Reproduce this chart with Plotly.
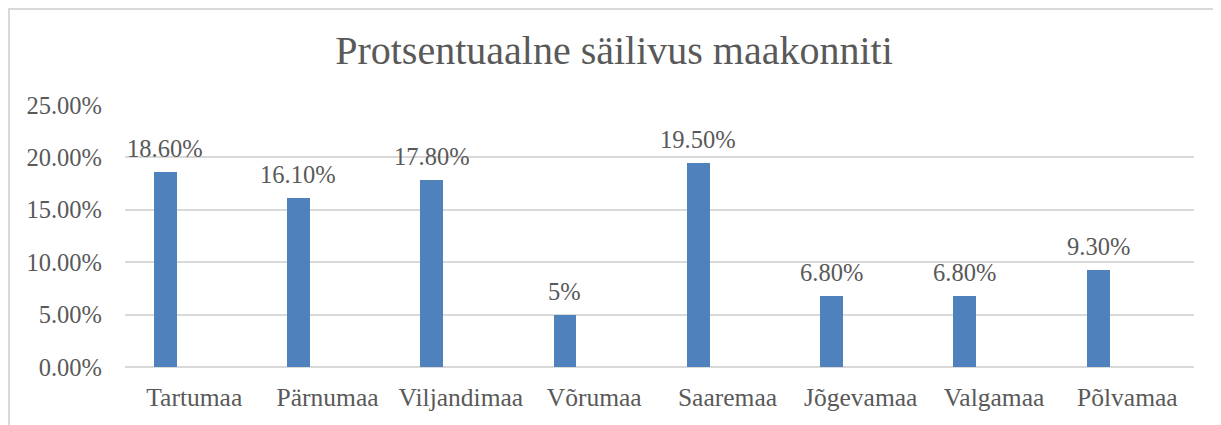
import plotly.graph_objects as go

categories = ["Tartumaa", "Pärnumaa", "Viljandimaa", "Võrumaa", "Saaremaa", "Jõgevamaa", "Valgamaa", "Põlvamaa"]
values = [0.186, 0.161, 0.178, 0.05, 0.195, 0.068, 0.068, 0.093]
value_labels = ["18.60%", "16.10%", "17.80%", "5%", "19.50%", "6.80%", "6.80%", "9.30%"]
y_ticks = [0, 0.05, 0.10, 0.15, 0.20, 0.25]
title_text = "Protsentuaalne säilivus maakonniti"

FONT = "Liberation Serif"
TXT = "#595959"
# page body has an 8px margin; compensate
W, H = 1213, 417
L, R, T, B = 117, 27, 97, 58
BAR_W = 0.172
BAR_OFF = -0.305

fig = go.Figure()
fig.add_trace(go.Bar(
    x=categories, y=values,
    marker=dict(color="#4F81BD", line=dict(width=0)),
    width=BAR_W, offset=BAR_OFF,
    hoverinfo="skip",
))

pw = W - L - R
ph = H - T - B
cat_px = pw / len(categories)

for c, v, lab in zip(categories, values, value_labels):
    fig.add_annotation(x=c, y=v, xref="x", yref="y", text=lab, showarrow=False,
                       xanchor="center", yanchor="bottom",
                       xshift=(BAR_OFF + BAR_W / 2) * cat_px, yshift=8,
                       font=dict(family=FONT, size=24.5, color=TXT))

def px(x):
    return (x - L) / pw
def py(y):
    return 1 - (y - T) / ph

fig.add_shape(type="rect", xref="paper", yref="paper",
              x0=px(1), x1=px(1240), y0=py(440), y1=py(1),
              line=dict(color="#D9D9D9", width=2), fillcolor="rgba(0,0,0,0)", layer="below")

fig.update_layout(
    width=W, height=H,
    margin=dict(l=L, r=R, t=T, b=B),
    paper_bgcolor="white", plot_bgcolor="white",
    showlegend=False,
    title=dict(text=title_text, x=(614 - 8) / W, xanchor="center", y=1 - 42 / H, yanchor="middle",
               yref="container", xref="container",
               font=dict(family=FONT, size=40, color=TXT)),
    xaxis=dict(showgrid=False, showline=False, ticks="", ticklen=0, ticklabelstandoff=12,
               tickfont=dict(family=FONT, size=25.5, color=TXT)),
    yaxis=dict(range=[0, 0.25], tickvals=y_ticks, tickformat=".2%",
               showgrid=True, gridcolor="#D9D9D9", gridwidth=1.5,
               zeroline=True, zerolinecolor="#D9D9D9", zerolinewidth=1.5,
               showline=False, ticks="", ticklabelstandoff=22,
               tickfont=dict(family=FONT, size=24.5, color=TXT)),
    bargap=0,
)

fig.write_html("out.html")
